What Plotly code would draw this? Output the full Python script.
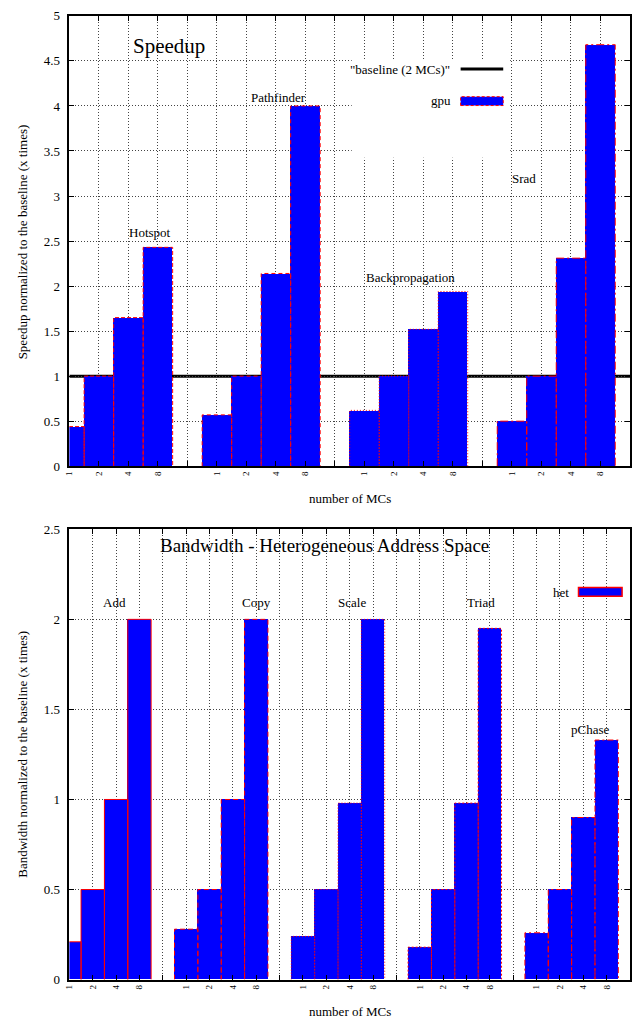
import plotly.graph_objects as go

# ---------------- data ----------------
MC_LABELS = ["1", "2", "4", "8"]

TOP_GROUPS = ["Hotspot", "Pathfinder", "Backpropagation", "Srad"]
HOTSPOT = [0.44, 1.0, 1.65, 2.43]
PATHFINDER = [0.57, 1.0, 2.14, 4.0]
BACKPROP = [0.62, 1.0, 1.52, 1.94]
SRAD = [0.50, 1.0, 2.31, 4.68]
TOP_VALUES = [HOTSPOT, PATHFINDER, BACKPROP, SRAD]
BASELINE = 1.0

BOT_GROUPS = ["Add", "Copy", "Scale", "Triad", "pChase"]
ADD = [0.21, 0.5, 1.0, 2.0]
COPY = [0.28, 0.5, 1.0, 2.0]
SCALE = [0.24, 0.5, 0.98, 2.0]
TRIAD = [0.18, 0.5, 0.98, 1.95]
PCHASE = [0.26, 0.5, 0.90, 1.33]
BOT_VALUES = [ADD, COPY, SCALE, TRIAD, PCHASE]

# ---------------- styling ----------------
W, H = 632, 1029
FONT = "Liberation Serif"
BLUE = "#0000FF"
RED = "#FF0000"
TOP_DASH = ["4px,2px", "4px,3px", "1px,2px", "8px,3px,2px,3px"]
BOT_DASH = ["solid", "5px,3px", "1px,2px", "2px,2px", "6px,3px,2px,3px"]


def px(x):
    return x / W


def py(y):
    return 1 - y / H


STEP = len(MC_LABELS) + 1
fig = go.Figure()


def add_groups(values, dashes, xa, ya):
    for g, vals in enumerate(values):
        xs = [g * STEP + i for i in range(len(vals))]
        fig.add_trace(go.Bar(x=xs, y=vals, width=1.0, marker=dict(color=BLUE, line=dict(width=0)),
                             xaxis=xa, yaxis=ya, showlegend=False, hoverinfo="y"))
        ox, oy = [], []
        for xv, v in zip(xs, vals):
            ox += [xv - 0.5, xv - 0.5, xv + 0.5, xv + 0.5, None]
            oy += [0, v, v, 0, None]
        fig.add_trace(go.Scatter(x=ox, y=oy, mode="lines", line=dict(color=RED, width=1, dash=dashes[g]),
                                 xaxis=xa, yaxis=ya, showlegend=False, hoverinfo="skip"))


add_groups(TOP_VALUES, TOP_DASH, "x", "y")
add_groups(BOT_VALUES, BOT_DASH, "x2", "y2")


def tick_setup(ngroups):
    vals, texts = [], []
    for g in range(ngroups):
        for i, lab in enumerate(MC_LABELS):
            vals.append(g * STEP + i)
            texts.append(lab)
        vals.append(g * STEP + len(MC_LABELS))
        texts.append("")
    return vals, texts


common_x = dict(showline=True, linecolor="black", linewidth=1.5, mirror="ticks", ticks="inside",
                ticklen=5, tickcolor="black", showgrid=True, gridcolor="#444", griddash="1px,2px",
                gridwidth=1, zeroline=False, tickangle=-90,
                tickfont=dict(family=FONT, size=9, color="black"))
common_y = dict(showline=True, linecolor="black", linewidth=1.5, mirror="ticks", ticks="inside",
                ticklen=5, tickcolor="black", showgrid=True, gridcolor="#444", griddash="1px,2px",
                gridwidth=1, zeroline=False, dtick=0.5, tick0=0, ticklabelstandoff=5,
                tickfont=dict(family=FONT, size=13, color="black"))

tv1, tt1 = tick_setup(len(TOP_GROUPS))
tv2, tt2 = tick_setup(len(BOT_GROUPS))

fig.update_layout(
    width=W, height=H, margin=dict(l=0, r=0, t=0, b=0),
    paper_bgcolor="white", plot_bgcolor="white", showlegend=False, bargap=0,
    xaxis=dict(common_x, domain=[px(65), px(631)], anchor="y",
               range=[0, len(TOP_GROUPS) * STEP - 1], tickvals=tv1, ticktext=tt1),
    yaxis=dict(common_y, domain=[py(466), py(9)], anchor="x", range=[0, 5]),
    xaxis2=dict(common_x, domain=[px(65), px(631)], anchor="y2",
                range=[0, len(BOT_GROUPS) * STEP - 1], tickvals=tv2, ticktext=tt2),
    yaxis2=dict(common_y, domain=[py(987), py(530)], anchor="x2", range=[0, 2.5]),
)

# baseline reference line (under the bars)
fig.add_shape(type="line", xref="x", yref="y", x0=0, x1=len(TOP_GROUPS) * STEP - 1,
              y0=BASELINE, y1=BASELINE, line=dict(color="black", width=3), layer="below")

# opaque legend box (top chart)
fig.add_shape(type="rect", xref="paper", yref="paper", x0=px(350), x1=px(510), y0=py(153), y1=py(53),
              fillcolor="white", line=dict(width=0), layer="above")
fig.add_shape(type="line", xref="paper", yref="paper", x0=px(460), x1=px(503), y0=py(63), y1=py(63),
              line=dict(color="black", width=3), layer="above")
fig.add_shape(type="rect", xref="paper", yref="paper", x0=px(460), x1=px(503), y0=py(100), y1=py(91),
              fillcolor=BLUE, line=dict(color=RED, width=1, dash="3px,2px"), layer="above")
# legend sample (bottom chart)
fig.add_shape(type="rect", xref="paper", yref="paper", x0=px(579), x1=px(623), y0=py(598), y1=py(589),
              fillcolor=BLUE, line=dict(color=RED, width=1.5), layer="above")


def ann(text, x, y, size=13, xanchor="center", angle=0):
    fig.add_annotation(text=text, xref="paper", yref="paper", x=px(x), y=py(y), showarrow=False,
                       xanchor=xanchor, yanchor="middle", textangle=angle,
                       font=dict(family=FONT, size=size, color="black"))


ann("Speedup", 166, 40, size=21)
ann('"baseline (2 MCs)"', 451, 63, xanchor="right")
ann("gpu", 452, 95, xanchor="right")
ann("Speedup normalized to the baseline (x times)", 18, 238, angle=-90)
ann("number of MCs", 348, 499)
top_label_pos = [(146, 229), (276, 92), (409, 274), (524, 174)]
for name, (lx, ly) in zip(TOP_GROUPS, top_label_pos):
    ann(name, lx, ly)

ann("Bandwidth - Heterogeneous Address Space", 323, 546, size=19)
ann("het", 571, 594, xanchor="right")
ann("Bandwidth normalized to the baseline (x times)", 18, 758, angle=-90)
ann("number of MCs", 348, 1019)
bot_label_pos = [(111, 604), (254, 604), (350, 604), (481, 604), (591, 733)]
for name, (lx, ly) in zip(BOT_GROUPS, bot_label_pos):
    ann(name, lx, ly)

fig.write_html("out.html", config={"displayModeBar": False},
               post_script="document.body.style.margin='0';document.body.style.overflow='hidden';"
                           "window.dispatchEvent(new Event('resize'));")
